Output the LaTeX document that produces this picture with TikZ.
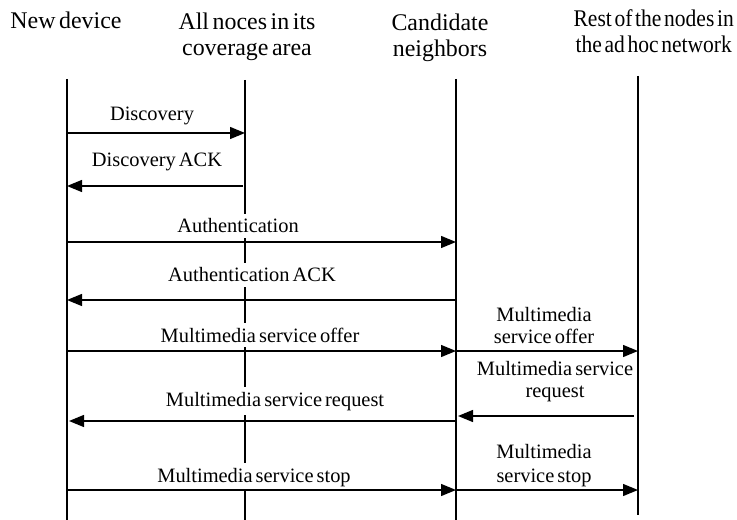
\documentclass[tikz,border=0pt]{standalone}
\usepackage{fontspec}
\setmainfont{Liberation Serif}[WordSpace=0.6]
\newfontfamily\narrowserif{Liberation Serif}[WordSpace=0.5,FakeStretch=0.9]
\usetikzlibrary{arrows.meta}
\begin{document}
\begin{tikzpicture}[x=1bp,y=-1bp,
  lifeline/.style={line width=1.6bp},
  msg/.style={line width=1.3bp,-{Triangle[length=15bp,width=12bp]}},
  header/.style={font=\fontsize{24}{27}\selectfont,align=center,anchor=base,inner sep=0pt},
  msglabel/.style={font=\fontsize{20.5}{22}\selectfont,anchor=base,fill=white,inner xsep=4bp,inner ysep=5bp},
  sidelabel/.style={font=\fontsize{20.5}{21.5}\selectfont,align=center,anchor=base,inner sep=0pt}]
\useasboundingbox (0,0) rectangle (737,520);

% column headings (base anchor sits on the last line)
\node[header] (hNew)  at (66,29)  {New device};
\node[header] (hAll)  at (247,56) {All noces in its\\coverage area};
\node[header] (hCand) at (440,57) {Candidate\\neighbors};
\node[header,anchor=base east,font=\narrowserif\fontsize{24}{27}\selectfont]
  (hRest) at (734,53) {Rest of the nodes in\\the ad hoc network};

% lifelines
\coordinate (t1) at (67,79);  \coordinate (b1) at (67,520);
\coordinate (t2) at (245,80); \coordinate (b2) at (245,520);
\coordinate (t3) at (456,79); \coordinate (b3) at (456,520);
\coordinate (t4) at (638,76); \coordinate (b4) at (638,515);
\draw[lifeline] (t1) -- (b1);
\draw[lifeline] (t2) -- (b2);
\draw[lifeline] (t3) -- (b3);
\draw[lifeline] (t4) -- (b4);

% message rows
\coordinate (r1) at (0,133);
\coordinate (r2) at (0,186);
\coordinate (r3) at (0,242);
\coordinate (r4) at (0,300);
\coordinate (r5) at (0,351);
\coordinate (r6) at (0,421);
\coordinate (r7) at (0,416);
\coordinate (r8) at (0,490);

% message labels
\node[msglabel] (lDisc)    at (152,121) {Discovery};
\node[msglabel] (lDiscAck) at (157,167) {Discovery ACK};
\node[msglabel] (lAuth)    at (238,233) {Authentication};
\node[msglabel] (lAuthAck) at (252,282) {Authentication ACK};
\node[msglabel] (lOffer)   at (260,342) {Multimedia service offer};
\node[msglabel] (lReq)     at (275,406) {Multimedia service request};
\node[msglabel] (lStop)    at (254,482) {Multimedia service stop};
\node[sidelabel] (sOffer)  at (544,343) {Multimedia\\service offer};
\node[sidelabel] (sReq)    at (555,397) {Multimedia service\\request};
\node[sidelabel,font=\fontsize{20.5}{24}\selectfont] (sStop) at (544,482) {Multimedia\\service stop};

% messages
\draw[msg] (t1 |- r1) -- (t2 |- r1);
\draw[msg,shorten <=2bp] (t2 |- r2) -- (t1 |- r2);
\draw[msg] (t1 |- r3) -- (t3 |- r3);
\draw[msg] (t3 |- r4) -- (t1 |- r4);
\draw[msg] (t1 |- r5) -- (t3 |- r5);
\draw[msg] (t3 |- r5) -- (t4 |- r5);
\draw[msg,shorten >=2bp] (t3 |- r6) -- (t1 |- r6);
\draw[msg,shorten <=4bp,shorten >=2bp] (t4 |- r7) -- (t3 |- r7);
\draw[msg] (t1 |- r8) -- (t3 |- r8);
\draw[msg] (t3 |- r8) -- (t4 |- r8);
\end{tikzpicture}
\end{document}
